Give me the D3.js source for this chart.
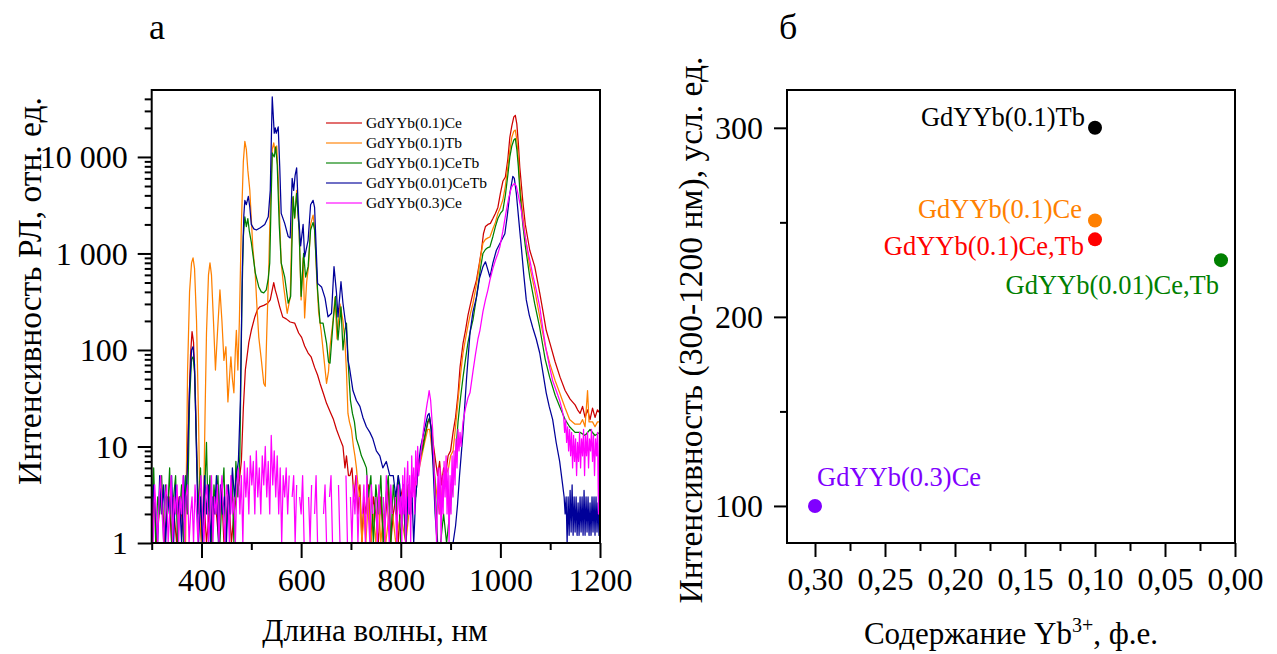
<!DOCTYPE html>
<html><head><meta charset="utf-8">
<script src="https://cdn.jsdelivr.net/npm/d3@7"></script>
<style>
html,body{margin:0;padding:0;background:#fff;}
svg text{font-family:"Liberation Serif","Times New Roman",serif;}
</style></head>
<body>
<svg id="c" width="1277" height="654"></svg>
<script>
// ---------- Panel a data: wavelength (nm), intensity (rel. units) ----------
const seriesNames = ["GdYYb(0.1)Ce","GdYYb(0.1)Tb","GdYYb(0.1)CeTb","GdYYb(0.01)CeTb","GdYYb(0.3)Ce"];
const seriesColors = ["#cc0000","#ff8000","#008000","#000099","#ff00ff"];

const specCe01 = [[300,1],[305,3],[310,1],[315,2],[320,4],[325,1],[330,2],[335,3],[340,1],[345,2],[350,1],[355,3],[360,2],[365,1],[370,4],[374,20],[378,90],[381,155],[384,120],[388,30],[392,4],[396,2],[400,1],[405,3],[410,1],[415,2],[420,1],[425,3],[430,2],[435,1],[440,4],[445,1],[450,2],[455,3],[460,1],[465,2],[470,3],[475,4],[480,7],[484,25],[488,62],[495,120],[500,160],[507,220],[512,260],[517,280],[525,290],[533,305],[538,330],[542,420],[545,500],[548,420],[551,370],[557,280],[563,220],[570,210],[578,195],[587,190],[595,150],[601,135],[607,110],[614,93],[620,85],[627,66],[633,55],[638,45],[645,35],[651,28],[658,23],[665,19],[671,15],[678,12],[684,10],[688,6],[691,8],[695,5],[698,5],[702,6],[706,3],[710,5],[714,2],[718,4],[722,1],[726,3],[730,2],[735,4],[740,1],[745,3],[750,2],[755,1],[760,3],[765,1],[770,2],[775,4],[780,1],[785,2],[790,3],[795,1],[800,3],[805,4],[810,2],[815,4],[820,3],[825,5],[830,4],[835,7],[840,8],[845,11],[850,14],[855,18],[858,19],[862,15],[866,10],[870,7],[874,5],[878,7],[882,4],[886,6],[890,5],[895,8],[900,9],[905,14],[910,20],[915,35],[919,66],[925,117],[930,160],[935,230],[940,300],[945,390],[952,530],[958,800],[962,1080],[966,1600],[970,1900],[975,2000],[980,2050],[985,2300],[990,2600],[995,3000],[1000,4200],[1005,5600],[1010,6200],[1015,9500],[1019,16000],[1023,21000],[1027,26000],[1030,27000],[1033,22000],[1036,14000],[1039,7800],[1045,3500],[1050,2000],[1059,1080],[1069,730],[1079,390],[1085,260],[1092,160],[1100,115],[1110,75],[1120,52],[1130,38],[1140,31],[1150,27],[1155,24],[1160,22],[1165,26],[1170,20],[1175,24],[1180,19],[1185,25],[1190,20],[1195,24],[1200,22]];

const specTb01 = [[300,1],[368,1],[372,60],[376,400],[380,800],[383,900],[386,700],[390,200],[394,20],[397,2],[400,1],[404,2],[407,20],[410,150],[414,600],[417,800],[420,600],[424,200],[428,62],[432,150],[437,420],[441,200],[445,78],[449,108],[453,29],[457,60],[459,85],[462,50],[465,36],[468,100],[470,160],[473,62],[476,200],[480,2000],[484,9000],[487,14500],[490,12000],[493,7300],[497,4500],[503,1150],[508,600],[511,300],[515,135],[520,80],[525,45],[528,42],[531,150],[535,700],[538,3000],[542,12000],[545,14000],[548,11000],[551,13000],[554,6000],[560,800],[565,450],[572,240],[578,350],[583,3800],[587,2300],[591,4500],[596,1700],[600,330],[604,900],[607,215],[611,500],[615,750],[619,2000],[624,2500],[627,1900],[631,600],[635,250],[640,160],[645,90],[651,45],[655,60],[658,108],[664,200],[668,350],[672,130],[678,300],[684,200],[688,120],[691,60],[694,22],[697,18],[701,15],[705,10],[708,8],[711,6],[714,4],[718,3],[722,1],[726,2],[730,1],[735,3],[740,1],[745,2],[750,1],[755,3],[760,1],[765,2],[770,1],[780,3],[790,1],[800,2],[810,1],[820,3],[830,4],[840,7],[848,11],[854,15],[858,15],[863,9],[868,5],[873,3],[878,2],[884,4],[890,5],[896,6],[900,8],[905,9],[910,16],[915,30],[920,55],[925,93],[930,130],[935,180],[940,240],[945,305],[950,420],[955,600],[960,900],[965,1280],[970,1400],[975,1450],[979,1480],[985,1800],[990,2100],[995,2600],[1000,3000],[1005,3600],[1010,5000],[1015,8000],[1019,11700],[1023,16000],[1027,18500],[1030,19000],[1033,15000],[1036,10000],[1039,5300],[1045,2500],[1050,1500],[1059,730],[1069,420],[1079,220],[1090,110],[1099,73],[1110,48],[1119,36],[1130,25],[1139,19],[1150,17],[1160,17],[1165,19],[1170,16],[1175,38],[1178,18],[1185,18],[1190,16],[1195,18],[1200,18]];

const specCeTb01 = [[300,2],[304,6],[308,1],[312,3],[316,2],[320,5],[324,1],[328,4],[332,2],[336,6],[340,1],[344,3],[348,5],[352,1],[356,2],[360,4],[364,1],[368,5],[372,2],[376,30],[380,80],[383,85],[386,60],[390,10],[394,2],[398,6],[402,1],[406,3],[410,11],[413,2],[417,5],[421,1],[425,4],[429,2],[433,5],[437,1],[441,3],[445,6],[449,1],[453,4],[457,2],[461,5],[465,1],[469,7],[473,3],[477,8],[481,300],[484,1500],[487,2400],[490,1900],[493,2300],[496,1700],[500,1300],[508,630],[515,450],[520,400],[525,390],[530,420],[534,550],[537,800],[540,4000],[542,11000],[546,10000],[549,12700],[552,8300],[556,2000],[560,800],[567,570],[574,305],[579,360],[584,3900],[587,2350],[591,4200],[596,1750],[600,360],[605,1000],[609,570],[614,730],[619,1750],[624,2100],[627,1750],[633,420],[638,190],[644,190],[651,118],[655,75],[658,73],[664,190],[669,360],[674,127],[680,280],[684,100],[688,160],[691,190],[695,66],[699,30],[703,22],[707,18],[711,12],[716,10],[721,8],[726,7],[731,6],[735,3],[740,5],[745,1],[750,4],[755,2],[760,5],[765,1],[770,3],[775,5],[780,1],[785,4],[790,2],[795,5],[800,1],[805,3],[810,1],[815,4],[820,2],[825,5],[830,3],[835,6],[840,8],[845,10],[850,14],[854,18],[858,20],[862,14],[866,8],[870,3],[874,1],[880,1],[886,2],[892,1],[898,2],[902,3],[905,4],[910,8],[915,18],[920,32],[925,52],[930,80],[935,120],[940,160],[945,205],[950,300],[955,450],[960,700],[965,1000],[970,1100],[975,1150],[979,1170],[985,1500],[990,1900],[995,2300],[1000,2600],[1005,2800],[1010,4000],[1015,6500],[1019,10000],[1023,13000],[1027,15000],[1030,15500],[1033,12000],[1036,8000],[1039,4500],[1045,2000],[1050,1200],[1059,570],[1069,300],[1079,170],[1090,80],[1099,52],[1110,34],[1119,26],[1130,19],[1139,16],[1150,14],[1160,14],[1170,13],[1180,15],[1190,13],[1200,14]];

const specCeTb001 = [[300,1],[304,4],[308,2],[312,1],[316,5],[320,2],[324,4],[328,1],[332,3],[336,2],[340,5],[344,1],[348,4],[352,2],[356,3],[360,1],[364,5],[368,2],[372,7],[376,40],[380,100],[383,108],[386,70],[390,8],[394,1],[398,3],[402,1],[406,5],[410,2],[414,4],[418,1],[422,3],[426,2],[430,5],[434,1],[438,4],[442,2],[446,3],[450,1],[454,4],[458,2],[462,6],[466,3],[470,5],[474,7],[478,30],[482,700],[485,2500],[487,3550],[490,3200],[494,3900],[497,3000],[500,2000],[505,1800],[510,1750],[518,1850],[527,2000],[534,2400],[538,4500],[542,42000],[546,17600],[548,20000],[550,17600],[554,20500],[557,8000],[560,2600],[567,2050],[574,1500],[578,1450],[582,6000],[585,4500],[588,6500],[591,7700],[595,2400],[599,1200],[604,2000],[607,920],[614,1370],[619,3200],[624,3550],[627,3000],[633,490],[641,450],[648,345],[654,220],[661,240],[666,730],[671,390],[674,220],[680,510],[684,305],[691,160],[694,79],[697,66],[704,38],[711,30],[718,26],[724,20],[731,16],[738,14],[744,12],[751,9],[758,8],[764,6],[771,7],[778,5],[785,5],[790,3],[795,5],[798,4],[802,2],[806,4],[810,1],[814,3],[818,2],[822,4],[826,1],[830,3],[835,6],[840,10],[845,13],[850,17],[854,21],[857,22],[861,15],[865,6],[869,2],[873,1],[880,1],[890,1],[900,1],[905,1],[910,1.5],[914,2.5],[918,5],[925,14],[932,50],[939,150],[945,250],[952,350],[958,550],[965,730],[970,820],[974,700],[979,570],[985,800],[992,1080],[1000,1300],[1009,1600],[1014,2500],[1019,4200],[1025,6300],[1028,6000],[1032,4200],[1037,2200],[1042,1170],[1047,600],[1052,330],[1058,230],[1065,170],[1072,130],[1079,93],[1085,60],[1092,36],[1098,26],[1105,19],[1112,11],[1119,7],[1125,4],[1128,3],[1130,2],[1132,3],[1134,1],[1136,3],[1138,1.2],[1140,3.5],[1142,1.3],[1144,4],[1146,1.2],[1148,3],[1150,1.3],[1152,3],[1154,1.2],[1156,2.6],[1158,1.2],[1160,3],[1162,1.3],[1164,3],[1166,1.2],[1168,3.5],[1170,1.2],[1172,3],[1174,1.3],[1176,3],[1178,1.2],[1180,2.6],[1182,1.2],[1184,3],[1186,1.3],[1188,3],[1190,1.2],[1192,3],[1194,1.3],[1196,2.6],[1198,1.2],[1200,2.5]];

const specCe03 = [[300,3],[303,1],[306,4],[309,2],[312,1],[315,3],[318,5],[321,2],[324,1],[327,3],[330,4],[333,1],[336,2],[339,5],[342,1],[345,3],[348,2],[351,4],[354,1],[357,3],[360,2],[363,5],[366,1],[369,3],[372,4],[375,1],[378,2],[381,3],[384,1],[387,4],[390,2],[393,1],[396,3],[399,5],[402,2],[405,1],[408,3],[411,4],[414,1],[417,2],[420,5],[423,1],[426,3],[429,2],[432,4],[435,1],[438,3],[441,5],[444,2],[447,1],[450,4],[453,3],[456,1],[459,5],[462,2],[465,3],[468,1],[471,4],[474,6],[477,2],[480,5],[483,1],[486,7],[489,3],[492,6],[495,2],[498,8],[501,4],[504,7],[507,2],[510,9],[513,3],[516,6],[519,2],[522,8],[525,4],[528,10],[531,3],[534,7],[537,2],[540,13],[543,4],[546,9],[549,3],[552,8],[555,2],[558,6],[561,1],[564,5],[567,3],[570,6],[573,2],[576,5],[579,0],[582,3],[585,5],[588,1],[591,4],[594,0],[597,3],[600,2],[603,5],[606,1],[609,0],[612,0],[615,3],[618,1],[621,4],[624,0],[627,2],[630,5],[633,1],[636,0],[639,3],[642,0],[645,2],[648,4],[651,1],[654,0],[657,3],[660,5],[663,1],[666,0],[669,2],[672,0],[675,4],[678,1],[681,0],[684,3],[687,0],[690,5],[693,1],[696,0],[699,3],[702,1],[705,4],[708,2],[711,5],[714,1],[717,3],[720,0],[723,2],[726,4],[729,1],[732,5],[735,2],[738,1],[741,4],[744,2],[747,0],[750,3],[753,1],[756,4],[759,2],[762,0],[765,3],[768,1],[771,5],[774,2],[777,1],[780,4],[783,2],[786,0],[789,3],[792,1],[795,4],[798,2],[800,3],[802,1],[804,5],[806,2],[808,6],[810,1],[812,4],[814,7],[816,2],[818,5],[820,1],[822,8],[824,3],[826,6],[828,2],[830,9],[832,4],[834,10],[836,5],[840,8],[845,14],[850,22],[853,28],[855,32],[857,38],[860,30],[864,15],[867,6],[870,2],[872,1],[875,6],[877,2],[879,6],[881,1],[883,5],[885,2],[887,7],[889,3],[891,8],[893,2],[895,6],[897,1],[899,5],[901,2],[903,8],[905,3],[907,9],[909,4],[911,12],[913,6],[915,15],[917,9],[919,14],[921,10],[925,18],[930,25],[935,32],[939,36],[945,60],[950,90],[955,130],[959,160],[965,250],[970,330],[975,420],[979,530],[985,700],[990,850],[995,1000],[999,1170],[1005,1700],[1012,2800],[1017,3800],[1022,4800],[1026,5200],[1029,5300],[1032,5000],[1036,4000],[1042,2800],[1048,1700],[1053,1200],[1059,860],[1065,600],[1072,420],[1079,280],[1085,170],[1092,100],[1099,66],[1105,48],[1112,38],[1119,30],[1124,24],[1127,20],[1129,14],[1131,19],[1133,11],[1135,16],[1137,9],[1139,15],[1141,8],[1143,14],[1145,6],[1147,13],[1149,7],[1151,12],[1153,5],[1155,11],[1157,7],[1159,14],[1161,6],[1163,12],[1165,8],[1167,15],[1169,5],[1171,13],[1173,8],[1175,14],[1177,6],[1179,12],[1181,9],[1183,15],[1185,7],[1187,13],[1189,5],[1191,12],[1193,8],[1195,14],[1197,2],[1199,16],[1200,10]];

const spectra = [specCe01, specTb01, specCeTb01, specCeTb001, specCe03];

const aXTicksMajor = [400,600,800,1000,1200];
const aXTicksMinor = [300,500,700,900,1100];
const aYTicksMajor = [1,10,100,1000,10000];
const aYTickLabels = ["1","10","100","1 000","10 000"];

// ---------- Panel b data ----------
const bNames  = ["GdYYb(0.1)Tb","GdYYb(0.1)Ce","GdYYb(0.1)Ce,Tb","GdYYb(0.01)Ce,Tb","GdYYb(0.3)Ce"];
const bYb     = [0.10, 0.10, 0.10, 0.01, 0.30];
const bInt    = [300, 251, 241, 230, 100];
const bColors = ["#000000","#ff8000","#ff0000","#008000","#8000ff"];
const bXTicksMajor = [0.30,0.25,0.20,0.15,0.10,0.05,0.00];
const bXTicksMinor = [0.275,0.225,0.175,0.125,0.075,0.025];
const bYTicksMajor = [100,200,300];
const bYTicksMinor = [150,250];

// ---------- drawing ----------
const svg = d3.select("#c");
const FONT = '"Liberation Serif","Times New Roman",serif';

function styleAxis(g){
  g.attr("font-family",null);
  g.select(".domain").remove();
  g.selectAll(".tick line").attr("stroke","#000").attr("stroke-width",2);
  g.selectAll(".tick text").attr("fill","#000").style("font-family",FONT).style("font-size","32px");
}

// Panel a
const ax = d3.scaleLinear().domain([300,1200]).range([151.7,600]);
const ay = d3.scaleLog().domain([1,49400]).range([543,90]);
const ga = svg.append("g");

const minorA = [];
for (let e=0;e<=4;e++) for (let m=2;m<=9;m++){ const v=m*Math.pow(10,e); if (v<49400) minorA.push(v); }

ga.append("g").attr("transform","translate(151.7,0)")
  .call(d3.axisLeft(ay).tickValues(minorA).tickSize(7).tickFormat(""))
  .call(styleAxis);
ga.append("g").attr("transform","translate(151.7,0)")
  .call(d3.axisLeft(ay).tickValues(aYTicksMajor).tickSize(14).tickPadding(10)
    .tickFormat((d,i)=>aYTickLabels[i]))
  .call(styleAxis)
  .selectAll(".tick text").attr("dy","0.34em");
ga.append("g").attr("transform","translate(0,543)")
  .call(d3.axisBottom(ax).tickValues(aXTicksMinor).tickSize(7).tickFormat(""))
  .call(styleAxis);
ga.append("g").attr("transform","translate(0,543)")
  .call(d3.axisBottom(ax).tickValues(aXTicksMajor).tickSize(15).tickPadding(10).tickFormat(d=>d))
  .call(styleAxis);

svg.append("clipPath").attr("id","clipA").append("rect")
  .attr("x",ax(300)).attr("y",ay(49400)).attr("width",ax(1200)-ax(300)).attr("height",ay(1)-ay(49400));

const line = d3.line().defined(d=>d[1]>0).x(d=>ax(d[0])).y(d=>ay(Math.max(1,d[1])));
const gl = ga.append("g").attr("clip-path","url(#clipA)");
spectra.forEach((s,i)=>{
  gl.append("path").datum(s).attr("d",line).attr("fill","none")
    .attr("stroke",seriesColors[i]).attr("stroke-width",1.25).attr("stroke-linejoin","round");
});

ga.append("rect").attr("x",ax(300)).attr("y",ay(49400)).attr("width",ax(1200)-ax(300)).attr("height",ay(1)-ay(49400))
  .attr("fill","none").attr("stroke","#000").attr("stroke-width",2);

// legend a
const lg = ga.append("g").attr("transform","translate(326,123)");
seriesNames.forEach((n,i)=>{
  lg.append("line").attr("x1",0).attr("x2",36).attr("y1",i*20).attr("y2",i*20)
    .attr("stroke",seriesColors[i]).attr("stroke-width",1.3).attr("opacity",0.75);
  lg.append("text").attr("x",40).attr("y",i*20+5).text(n)
    .style("font-family",FONT).style("font-size","15.5px").attr("fill","#000");
});

ga.append("text").attr("x",375).attr("y",641).attr("text-anchor","middle")
  .style("font-family",FONT).style("font-size","31px").text("Длина волны, нм");
ga.append("text").attr("transform","translate(41,291) rotate(-90)").attr("text-anchor","middle")
  .style("font-family",FONT).style("font-size","33.5px").text("Интенсивность РЛ, отн. ед.");
ga.append("text").attr("x",149).attr("y",39)
  .style("font-family",FONT).style("font-size","36px").text("а");

// Panel b
const bx = d3.scaleLinear().domain([0.32,0]).range([787,1235]);
const by = d3.scaleLinear().domain([80.4,320]).range([543,90]);
const gb = svg.append("g");
const comma = d => d3.format(".2f")(d).replace(".",",");

gb.append("g").attr("transform","translate(787,0)")
  .call(d3.axisLeft(by).tickValues(bYTicksMinor).tickSize(7).tickFormat(""))
  .call(styleAxis);
gb.append("g").attr("transform","translate(787,0)")
  .call(d3.axisLeft(by).tickValues(bYTicksMajor).tickSize(13).tickPadding(11).tickFormat(d=>d))
  .call(styleAxis)
  .selectAll(".tick text").attr("dy","0.34em");
gb.append("g").attr("transform","translate(0,543)")
  .call(d3.axisBottom(bx).tickValues(bXTicksMinor).tickSize(8).tickFormat(""))
  .call(styleAxis);
gb.append("g").attr("transform","translate(0,543)")
  .call(d3.axisBottom(bx).tickValues(bXTicksMajor).tickSize(14).tickPadding(10).tickFormat(comma))
  .call(styleAxis);

gb.append("rect").attr("x",787).attr("y",90).attr("width",1235-787).attr("height",543-90)
  .attr("fill","none").attr("stroke","#000").attr("stroke-width",2);

gb.selectAll("circle.pt").data(bYb).enter().append("circle").attr("class","pt")
  .attr("cx",d=>bx(d)).attr("cy",(d,i)=>by(bInt[i])).attr("r",7).attr("fill",(d,i)=>bColors[i]);

const labelOff = [[-10,-2,"end"],[-13,-2,"end"],[-11,16,"end"],[-2,34,"end"],[2,-20,"start"]];
bNames.forEach((n,i)=>{
  gb.append("text").attr("x",bx(bYb[i])+labelOff[i][0]).attr("y",by(bInt[i])+labelOff[i][1])
    .attr("text-anchor",labelOff[i][2]).attr("fill",bColors[i])
    .style("font-family",FONT).style("font-size","26.5px").text(n);
});

const xt = gb.append("text").attr("x",1011).attr("y",644).attr("text-anchor","middle")
  .style("font-family",FONT).style("font-size","31px");
xt.append("tspan").text("Содержание Yb");
xt.append("tspan").attr("dy",-12).style("font-size","20px").text("3+");
xt.append("tspan").attr("dy",12).text(", ф.е.");
gb.append("text").attr("transform","translate(702,330) rotate(-90)").attr("text-anchor","middle")
  .style("font-family",FONT).style("font-size","33.5px").text("Интенсивность (300-1200 нм), усл. ед.");
gb.append("text").attr("x",779).attr("y",39)
  .style("font-family",FONT).style("font-size","36px").text("б");
</script>
</body></html>
